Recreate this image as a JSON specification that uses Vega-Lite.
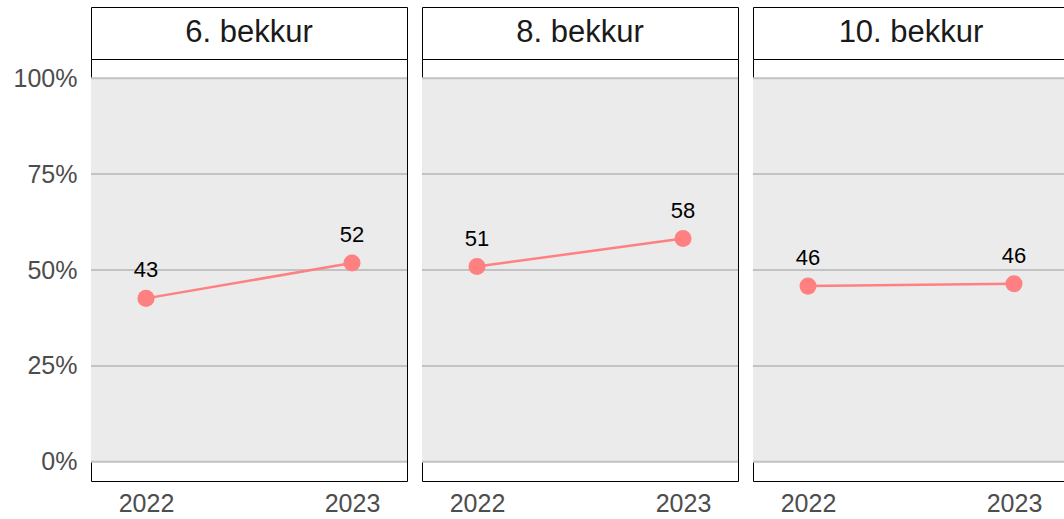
{
  "$schema": "https://vega.github.io/schema/vega-lite/v6.json",
  "autosize": {"type": "pad"},
  "padding": {"left": 12, "top": 6, "right": 0, "bottom": 0},
  "background": "white",
  "datasets": {
    "pts": [
      {"grade": "6. bekkur", "year": "2022", "value": 42.6},
      {"grade": "6. bekkur", "year": "2023", "value": 51.8},
      {"grade": "8. bekkur", "year": "2022", "value": 50.9},
      {"grade": "8. bekkur", "year": "2023", "value": 58.2},
      {"grade": "10. bekkur", "year": "2022", "value": 45.8},
      {"grade": "10. bekkur", "year": "2023", "value": 46.4}
    ],
    "grid": [{"v": 0}, {"v": 25}, {"v": 50}, {"v": 75}, {"v": 100}]
  },
  "spacing": 11,
  "hconcat": [
    {
      "spacing": 0,
      "bounds": "flush",
      "vconcat": [
        {
          "width": 316, "height": 52,
          "view": {"fill": "white", "stroke": "black"},
          "data": {"values": [{"g": "6. bekkur"}]},
          "mark": {"type": "text", "fontSize": 31, "color": "#1A1A1A", "baseline": "middle"},
          "encoding": {"text": {"field": "g"}}
        },
        {
          "width": 316, "height": 422,
          "view": {"fill": "white", "stroke": "black"},
          "layer": [
            {
              "data": {"values": [{}]},
              "mark": {"type": "rect", "color": "#EBEBEB"},
              "encoding": {
                "y": {"datum": 0, "type": "quantitative", "scale": {"domain": [-5, 105], "nice": false, "zero": false}, "axis": {"title": null, "values": [0, 25, 50, 75, 100], "labelExpr": "datum.value + '%'"}},
                "y2": {"datum": 100}
              }
            },
            {
              "data": {"name": "grid"},
              "mark": {"type": "rule", "color": "#C2C2C2", "strokeWidth": 2},
              "encoding": {
                "y": {"field": "v", "type": "quantitative", "scale": {"domain": [-5, 105], "nice": false, "zero": false}, "axis": {"title": null, "values": [0, 25, 50, 75, 100], "labelExpr": "datum.value + '%'"}}
              }
            },
            {
              "data": {"name": "pts"},
              "transform": [{"filter": "datum.grade === '6. bekkur'"}],
              "mark": {"type": "line", "color": "#FF8080", "strokeWidth": 2.5},
              "encoding": {
                "x": {"field": "year", "type": "ordinal", "scale": {"type": "point", "padding": 0.267}, "axis": {"title": null}},
                "y": {"field": "value", "type": "quantitative", "scale": {"domain": [-5, 105], "nice": false, "zero": false}, "axis": {"title": null, "values": [0, 25, 50, 75, 100], "labelExpr": "datum.value + '%'"}}
              }
            },
            {
              "data": {"name": "pts"},
              "transform": [{"filter": "datum.grade === '6. bekkur'"}],
              "mark": {"type": "circle", "color": "#FF8080", "size": 290, "opacity": 1},
              "encoding": {
                "x": {"field": "year", "type": "ordinal", "scale": {"type": "point", "padding": 0.267}, "axis": {"title": null}},
                "y": {"field": "value", "type": "quantitative", "scale": {"domain": [-5, 105], "nice": false, "zero": false}, "axis": {"title": null, "values": [0, 25, 50, 75, 100], "labelExpr": "datum.value + '%'"}}
              }
            },
            {
              "data": {"name": "pts"},
              "transform": [{"filter": "datum.grade === '6. bekkur'"}],
              "mark": {"type": "text", "fontSize": 22, "color": "black", "baseline": "alphabetic", "dy": -21},
              "encoding": {
                "x": {"field": "year", "type": "ordinal", "scale": {"type": "point", "padding": 0.267}, "axis": {"title": null}},
                "y": {"field": "value", "type": "quantitative", "scale": {"domain": [-5, 105], "nice": false, "zero": false}, "axis": {"title": null, "values": [0, 25, 50, 75, 100], "labelExpr": "datum.value + '%'"}},
                "text": {"field": "value", "type": "quantitative", "format": ".0f"}
              }
            }
          ]
        }
      ]
    },
    {
      "spacing": 0,
      "bounds": "flush",
      "vconcat": [
        {
          "width": 316, "height": 52,
          "view": {"fill": "white", "stroke": "black"},
          "data": {"values": [{"g": "8. bekkur"}]},
          "mark": {"type": "text", "fontSize": 31, "color": "#1A1A1A", "baseline": "middle"},
          "encoding": {"text": {"field": "g"}}
        },
        {
          "width": 316, "height": 422,
          "view": {"fill": "white", "stroke": "black"},
          "layer": [
            {
              "data": {"values": [{}]},
              "mark": {"type": "rect", "color": "#EBEBEB"},
              "encoding": {
                "y": {"datum": 0, "type": "quantitative", "scale": {"domain": [-5, 105], "nice": false, "zero": false}, "axis": null},
                "y2": {"datum": 100}
              }
            },
            {
              "data": {"name": "grid"},
              "mark": {"type": "rule", "color": "#C2C2C2", "strokeWidth": 2},
              "encoding": {
                "y": {"field": "v", "type": "quantitative", "scale": {"domain": [-5, 105], "nice": false, "zero": false}, "axis": null}
              }
            },
            {
              "data": {"name": "pts"},
              "transform": [{"filter": "datum.grade === '8. bekkur'"}],
              "mark": {"type": "line", "color": "#FF8080", "strokeWidth": 2.5},
              "encoding": {
                "x": {"field": "year", "type": "ordinal", "scale": {"type": "point", "padding": 0.267}, "axis": {"title": null}},
                "y": {"field": "value", "type": "quantitative", "scale": {"domain": [-5, 105], "nice": false, "zero": false}, "axis": null}
              }
            },
            {
              "data": {"name": "pts"},
              "transform": [{"filter": "datum.grade === '8. bekkur'"}],
              "mark": {"type": "circle", "color": "#FF8080", "size": 290, "opacity": 1},
              "encoding": {
                "x": {"field": "year", "type": "ordinal", "scale": {"type": "point", "padding": 0.267}, "axis": {"title": null}},
                "y": {"field": "value", "type": "quantitative", "scale": {"domain": [-5, 105], "nice": false, "zero": false}, "axis": null}
              }
            },
            {
              "data": {"name": "pts"},
              "transform": [{"filter": "datum.grade === '8. bekkur'"}],
              "mark": {"type": "text", "fontSize": 22, "color": "black", "baseline": "alphabetic", "dy": -21},
              "encoding": {
                "x": {"field": "year", "type": "ordinal", "scale": {"type": "point", "padding": 0.267}, "axis": {"title": null}},
                "y": {"field": "value", "type": "quantitative", "scale": {"domain": [-5, 105], "nice": false, "zero": false}, "axis": null},
                "text": {"field": "value", "type": "quantitative", "format": ".0f"}
              }
            }
          ]
        }
      ]
    },
    {
      "spacing": 0,
      "bounds": "flush",
      "vconcat": [
        {
          "width": 316, "height": 52,
          "view": {"fill": "white", "stroke": "black"},
          "data": {"values": [{"g": "10. bekkur"}]},
          "mark": {"type": "text", "fontSize": 31, "color": "#1A1A1A", "baseline": "middle"},
          "encoding": {"text": {"field": "g"}}
        },
        {
          "width": 316, "height": 422,
          "view": {"fill": "white", "stroke": "black"},
          "layer": [
            {
              "data": {"values": [{}]},
              "mark": {"type": "rect", "color": "#EBEBEB"},
              "encoding": {
                "y": {"datum": 0, "type": "quantitative", "scale": {"domain": [-5, 105], "nice": false, "zero": false}, "axis": null},
                "y2": {"datum": 100}
              }
            },
            {
              "data": {"name": "grid"},
              "mark": {"type": "rule", "color": "#C2C2C2", "strokeWidth": 2},
              "encoding": {
                "y": {"field": "v", "type": "quantitative", "scale": {"domain": [-5, 105], "nice": false, "zero": false}, "axis": null}
              }
            },
            {
              "data": {"name": "pts"},
              "transform": [{"filter": "datum.grade === '10. bekkur'"}],
              "mark": {"type": "line", "color": "#FF8080", "strokeWidth": 2.5},
              "encoding": {
                "x": {"field": "year", "type": "ordinal", "scale": {"type": "point", "padding": 0.267}, "axis": {"title": null}},
                "y": {"field": "value", "type": "quantitative", "scale": {"domain": [-5, 105], "nice": false, "zero": false}, "axis": null}
              }
            },
            {
              "data": {"name": "pts"},
              "transform": [{"filter": "datum.grade === '10. bekkur'"}],
              "mark": {"type": "circle", "color": "#FF8080", "size": 290, "opacity": 1},
              "encoding": {
                "x": {"field": "year", "type": "ordinal", "scale": {"type": "point", "padding": 0.267}, "axis": {"title": null}},
                "y": {"field": "value", "type": "quantitative", "scale": {"domain": [-5, 105], "nice": false, "zero": false}, "axis": null}
              }
            },
            {
              "data": {"name": "pts"},
              "transform": [{"filter": "datum.grade === '10. bekkur'"}],
              "mark": {"type": "text", "fontSize": 22, "color": "black", "baseline": "alphabetic", "dy": -21},
              "encoding": {
                "x": {"field": "year", "type": "ordinal", "scale": {"type": "point", "padding": 0.267}, "axis": {"title": null}},
                "y": {"field": "value", "type": "quantitative", "scale": {"domain": [-5, 105], "nice": false, "zero": false}, "axis": null},
                "text": {"field": "value", "type": "quantitative", "format": ".0f"}
              }
            }
          ]
        }
      ]
    }
  ],
  "config": {
    "font": "Liberation Sans",
    "axis": {"grid": false, "ticks": false, "tickSize": 0, "domain": false, "labelFontSize": 25, "labelColor": "#4D4D4D", "labelFont": "Liberation Sans"},
    "axisX": {"labelPadding": 10, "labelAngle": 0},
    "axisY": {"labelPadding": 14},
    "view": {"stroke": "black"}
  }
}
